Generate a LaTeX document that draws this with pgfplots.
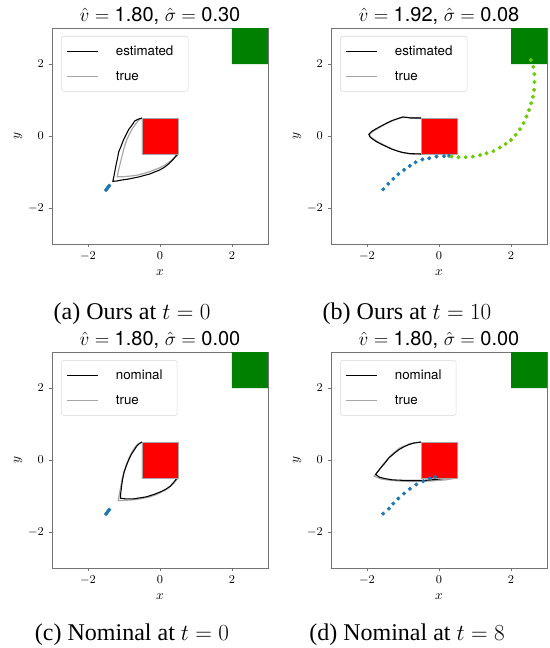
\documentclass[border=0pt]{standalone}
\usepackage{pgfplots}
\pgfplotsset{compat=1.18}
\usepackage{fontspec}
\setmainfont{Liberation Serif}
\setsansfont{TeX Gyre Heros}
\definecolor{mblue}{HTML}{1F77B4}
\definecolor{mgreen}{HTML}{008000}
\definecolor{lgreen}{RGB}{104,204,0}
\pgfplotsset{
 panel/.style={
  scale only axis, width=162pt, height=162pt,
  xmin=-3,xmax=3,ymin=-3,ymax=3,
  clip bounding box=upper bound,
  xtick={-2,0,2}, ytick={-2,0,2},
  tick pos=left, tick align=outside, major tick length=2.6pt,
  axis line style={black!55, line width=0.6pt},
  tick style={black!55, line width=0.6pt},
  tick label style={font=\fontsize{9}{11}\selectfont},
  xlabel={$x$}, ylabel={$y$},
  label style={font=\fontsize{10}{12}\selectfont},
  xlabel style={at={(axis description cs:0.5,-0.134)},anchor=center},
  ylabel style={at={(axis description cs:-0.157,0.5)},anchor=center},
  every axis title shift=0pt,
  title style={at={(axis description cs:0.5,1)}, anchor=base, inner sep=0pt, yshift=4.8pt, font=\sffamily\fontsize{15}{17}\selectfont},
  legend image code/.code={\draw[##1] (0pt,0pt) -- (23pt,0pt); \path (34pt,0pt);},
  legend cell align=left,
  legend style={at={(axis description cs:0.042,0.963)}, anchor=north west,
    draw=black!15, rounded corners=2pt, font=\sffamily\fontsize{10}{12}\selectfont,
    row sep=6.5pt, inner xsep=4pt, inner ysep=5pt},
 },
 est/.style={black, line width=0.8pt},
 tru/.style={black!35, line width=0.9pt},
}
\tikzset{capt/.style={anchor=base, inner sep=0pt, font=\fontsize{18}{21}\selectfont}}
\begin{document}
\begin{tikzpicture}
\path (0,0) rectangle (411.75pt,-486pt);
% (a)
\begin{axis}[panel, at={(39pt,-183pt)}, anchor=south west,
  title={$\hat{v} = {}$1.80, $\hat{\sigma} = {}$0.30}]
\addlegendimage{est}\addlegendentry{estimated\hspace*{5pt}}
\addlegendimage{tru}\addlegendentry{true}
\addplot[fill=mgreen, draw=none, forget plot] coordinates {(2,2) (3,2) (3,3) (2,3) (2,2)};
\addplot[tru, forget plot] coordinates {(-0.5,0.5) (-0.6,0.43) (-0.68,0.33) (-0.77,0.2) (-0.85,0.05) (-0.93,-0.12) (-0.99,-0.3) (-1.04,-0.5) (-1.09,-0.7) (-1.14,-0.9) (-1.19,-1.13) (-1.0,-1.13) (-0.8,-1.11) (-0.6,-1.08) (-0.4,-1.03) (-0.2,-0.96) (0,-0.88) (0.15,-0.8) (0.3,-0.69) (0.42,-0.58) (0.5,-0.5)};
\addplot[est, forget plot] coordinates {(-0.5,0.5) (-0.6,0.47) (-0.7,0.42) (-0.78,0.3) (-0.87,0.18) (-0.95,0.02) (-1.02,-0.12) (-1.08,-0.28) (-1.15,-0.45) (-1.18,-0.62) (-1.22,-0.8) (-1.25,-0.96) (-1.28,-1.12) (-1.31,-1.26) (-1.2,-1.25) (-1.05,-1.22) (-0.9,-1.2) (-0.75,-1.17) (-0.6,-1.14) (-0.45,-1.1) (-0.3,-1.06) (-0.15,-1.0) (0,-0.94) (0.12,-0.87) (0.25,-0.77) (0.35,-0.67) (0.43,-0.57) (0.5,-0.5)};
\addplot[fill=red, draw=black!35, line width=0.6pt, forget plot] coordinates {(-0.5,-0.5) (0.5,-0.5) (0.5,0.5) (-0.5,0.5) (-0.5,-0.5)};
\addplot[only marks, mark=*, mark size=1.3pt, mblue, forget plot] coordinates {(-1.5,-1.5) (-1.47,-1.46) (-1.44,-1.42) (-1.41,-1.38)};
\end{axis}
% (b)
\begin{axis}[panel, at={(248.25pt,-183pt)}, anchor=south west,
  title={$\hat{v} = {}$1.92, $\hat{\sigma} = {}$0.08}]
\addlegendimage{est}\addlegendentry{estimated\hspace*{5pt}}
\addlegendimage{tru}\addlegendentry{true}
\addplot[fill=mgreen, draw=none, forget plot] coordinates {(2,2) (3,2) (3,3) (2,3) (2,2)};
\addplot[tru, forget plot] coordinates {(-0.5,0.5) (-0.9,0.52) (-1.1,0.5) (-1.35,0.4) (-1.6,0.27) (-1.8,0.15) (-1.93,0.05) (-1.9,-0.03) (-1.75,-0.13) (-1.55,-0.24) (-1.3,-0.36) (-1.05,-0.45) (-0.8,-0.5) (-0.5,-0.5)};
\addplot[est, forget plot] coordinates {(-0.5,0.5) (-0.8,0.5) (-1.0,0.53) (-1.15,0.48) (-1.3,0.43) (-1.45,0.36) (-1.6,0.28) (-1.75,0.2) (-1.88,0.12) (-1.95,0.05) (-1.92,-0.02) (-1.85,-0.08) (-1.75,-0.15) (-1.6,-0.23) (-1.45,-0.3) (-1.3,-0.37) (-1.15,-0.42) (-1.0,-0.46) (-0.8,-0.49) (-0.5,-0.5)};
\addplot[fill=red, draw=black!35, line width=0.6pt, forget plot] coordinates {(-0.5,-0.5) (0.5,-0.5) (0.5,0.5) (-0.5,0.5) (-0.5,-0.5)};
\addplot[only marks, mark=*, mark size=1.3pt, mblue, forget plot] coordinates {(-1.55,-1.48) (-1.41,-1.33) (-1.27,-1.19) (-1.13,-1.06) (-0.97,-0.94) (-0.81,-0.83) (-0.65,-0.73) (-0.46,-0.65) (-0.27,-0.62) (-0.07,-0.57) (0.14,-0.56) (0.28,-0.55)};
\addplot[only marks, mark=*, mark size=1.3pt, lgreen, forget plot] coordinates {(0.35,-0.57) (0.54,-0.59) (0.74,-0.59) (0.94,-0.57) (1.14,-0.53) (1.32,-0.48) (1.51,-0.42) (1.69,-0.32) (1.85,-0.22) (2.0,-0.11) (2.13,0.03) (2.25,0.19) (2.35,0.36) (2.43,0.54) (2.5,0.72) (2.56,0.91) (2.61,1.09) (2.64,1.28) (2.65,1.5) (2.65,1.72) (2.62,1.92) (2.55,2.11)};
\end{axis}
% (c)
\begin{axis}[panel, at={(39pt,-426pt)}, anchor=south west,
  title={$\hat{v} = {}$1.80, $\hat{\sigma} = {}$0.00}]
\addlegendimage{est}\addlegendentry{nominal\hspace*{5pt}}
\addlegendimage{tru}\addlegendentry{true}
\addplot[fill=mgreen, draw=none, forget plot] coordinates {(2,2) (3,2) (3,3) (2,3) (2,2)};
\addplot[tru, forget plot] coordinates {(-0.5,0.5) (-0.62,0.44) (-0.7,0.35) (-0.78,0.22) (-0.86,0.06) (-0.93,-0.12) (-1.0,-0.32) (-1.05,-0.52) (-1.09,-0.74) (-1.13,-0.95) (-1.16,-1.13) (-1.0,-1.12) (-0.8,-1.11) (-0.55,-1.08) (-0.3,-1.03) (-0.1,-0.96) (0.1,-0.86) (0.25,-0.77) (0.38,-0.65) (0.5,-0.5)};
\addplot[est, forget plot] coordinates {(-0.5,0.5) (-0.58,0.45) (-0.65,0.38) (-0.72,0.27) (-0.8,0.15) (-0.87,0.0) (-0.94,-0.17) (-1.0,-0.35) (-1.04,-0.54) (-1.07,-0.75) (-1.09,-0.92) (-1.1,-1.06) (-0.95,-1.08) (-0.74,-1.08) (-0.55,-1.05) (-0.37,-1.02) (-0.18,-0.96) (0,-0.89) (0.15,-0.82) (0.28,-0.73) (0.38,-0.62) (0.46,-0.52) (0.5,-0.5)};
\addplot[fill=red, draw=black!35, line width=0.6pt, forget plot] coordinates {(-0.5,-0.5) (0.5,-0.5) (0.5,0.5) (-0.5,0.5) (-0.5,-0.5)};
\addplot[only marks, mark=*, mark size=1.3pt, mblue, forget plot] coordinates {(-1.5,-1.5) (-1.47,-1.46) (-1.44,-1.42) (-1.41,-1.38)};
\end{axis}
% (d)
\begin{axis}[panel, at={(248.25pt,-426pt)}, anchor=south west,
  title={$\hat{v} = {}$1.80, $\hat{\sigma} = {}$0.00}]
\addlegendimage{est}\addlegendentry{nominal\hspace*{5pt}}
\addlegendimage{tru}\addlegendentry{true}
\addplot[fill=mgreen, draw=none, forget plot] coordinates {(2,2) (3,2) (3,3) (2,3) (2,2)};
\addplot[tru, forget plot] coordinates {(-0.5,0.5) (-0.8,0.46) (-1.1,0.33) (-1.35,0.12) (-1.55,-0.12) (-1.72,-0.35) (-1.8,-0.45) (-1.6,-0.53) (-1.3,-0.57) (-1.0,-0.59) (-0.6,-0.6) (-0.2,-0.58) (0.2,-0.55) (0.5,-0.5)};
\addplot[est, forget plot] coordinates {(-0.5,0.5) (-0.7,0.47) (-0.83,0.43) (-0.97,0.37) (-1.11,0.29) (-1.25,0.18) (-1.39,0.06) (-1.5,-0.08) (-1.62,-0.22) (-1.7,-0.32) (-1.76,-0.4) (-1.65,-0.48) (-1.48,-0.52) (-1.3,-0.55) (-1.11,-0.56) (-0.85,-0.57) (-0.56,-0.57) (-0.3,-0.56) (-0.09,-0.54) (0.1,-0.52) (0.28,-0.5) (0.5,-0.47)};
\addplot[fill=red, draw=black!35, line width=0.6pt, forget plot] coordinates {(-0.5,-0.5) (0.5,-0.5) (0.5,0.5) (-0.5,0.5) (-0.5,-0.5)};
\addplot[only marks, mark=*, mark size=1.3pt, mblue, forget plot] coordinates {(-1.55,-1.49) (-1.39,-1.35) (-1.27,-1.21) (-1.13,-1.07) (-0.97,-0.93) (-0.81,-0.8) (-0.63,-0.68) (-0.44,-0.59) (-0.26,-0.51) (-0.11,-0.47)};
\end{axis}
% captions
\node[capt] at (99pt,-239.25pt) {(a) Ours at $t = 0$};
\node[capt] at (305.25pt,-239.25pt) {(b) Ours at $t = 10$};
\node[capt] at (99pt,-480pt) {(c) Nominal at $t = 0$};
\node[capt] at (305.25pt,-480pt) {(d) Nominal at $t = 8$};
\end{tikzpicture}
\end{document}
